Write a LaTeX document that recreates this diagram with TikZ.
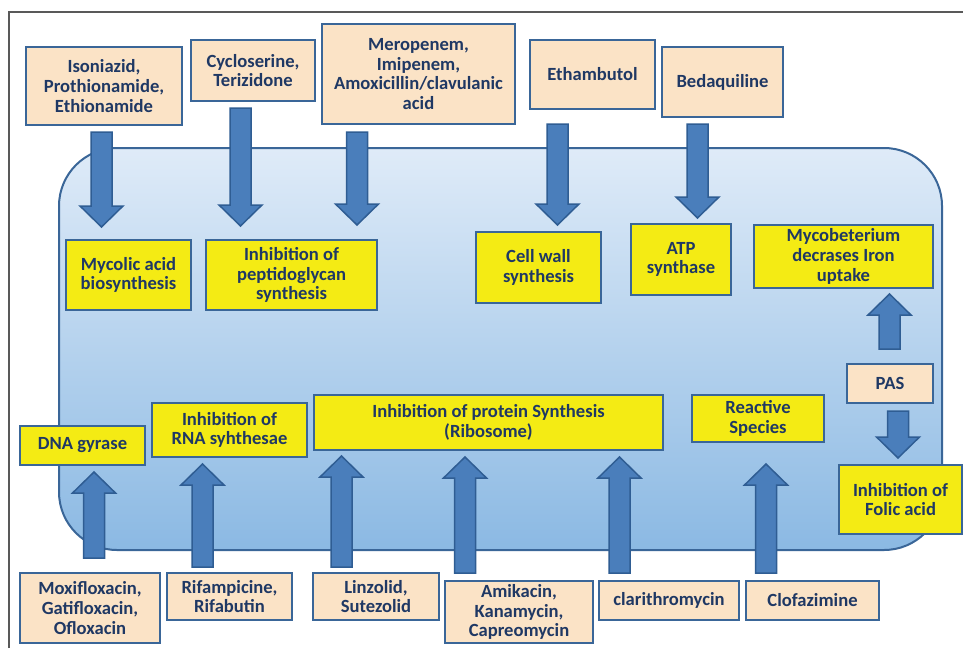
\documentclass[tikz,border=0pt]{standalone}
\usepackage{fontspec}
\setmainfont{Carlito}
\definecolor{bordc}{HTML}{3A6698}
\definecolor{peach}{HTML}{FBE3C6}
\definecolor{yel}{HTML}{F4EB14}
\definecolor{navy}{HTML}{1F3864}
\definecolor{arrfill}{HTML}{4A7EBB}
\definecolor{arrdraw}{HTML}{2F5D93}
\definecolor{blobtop}{HTML}{DFEBF8}
\definecolor{blobmid}{HTML}{B6D4F0}
\definecolor{blobbot}{HTML}{8BB9E3}
\newcommand\blockarrow[3]{%
  \pgfmathsetmacro\hbase{#3+((#2>#3)?21:-21)}%
  \draw[blockarr] ({#1-10.5},#2) -- ({#1-10.5},\hbase) -- ({#1-21.5},\hbase) -- (#1,#3) -- ({#1+21.5},\hbase) -- ({#1+10.5},\hbase) -- ({#1+10.5},#2) -- cycle;}
\begin{document}
\begin{tikzpicture}[x=1pt,y=-1pt,
  box/.style={draw=bordc, line width=1.8pt, text=navy, align=center, inner sep=0pt,
    font=\bfseries\fontsize{18.6}{19.6}\selectfont},
  drug/.style={box, fill=peach},
  target/.style={box, fill=yel},
  blockarr/.style={fill=arrfill, draw=arrdraw, line width=1.5pt, line join=miter}]
\useasboundingbox (0,0) rectangle (963,648);
\fill[white] (0,0) rectangle (963,648);
% outer frame
\draw[gray!70!black, line width=1.3pt] (9,648) -- (9,12) -- (963,12);
% cell body
\shade[top color=blobtop, middle color=blobmid, bottom color=blobbot, rounded corners=58pt] (59,148) rectangle (942,550);
\draw[bordc, line width=2pt, rounded corners=58pt] (59,148) rectangle (942,550);

% top drugs
\node[drug, minimum width=156, minimum height=78] (d1) at (104,86) {Isoniazid,\\Prothionamide,\\Ethionamide};
\node[drug, minimum width=124, minimum height=61] (d2) at (253,70.5) {Cycloserine,\\Terizidone};
\node[drug, minimum width=193, minimum height=100] (d3) at (418.5,74) {Meropenem,\\Imipenem,\\Amoxicillin/clavulanic\\acid};
\node[drug, minimum width=125, minimum height=69] (d4) at (592.5,74.5) {Ethambutol};
\node[drug, minimum width=121, minimum height=70] (d5) at (722.5,82) {Bedaquiline};

% top targets
\node[target, minimum width=125, minimum height=70] (t1) at (128.5,275) {Mycolic acid\\biosynthesis};
\node[target, minimum width=171, minimum height=70] (t2) at (291.5,275) {Inhibition of\\peptidoglycan\\synthesis};
\node[target, minimum width=125, minimum height=71] (t3) at (538.5,267.5) {Cell wall\\synthesis};
\node[target, minimum width=100, minimum height=71] (t4) at (681,259.5) {ATP\\synthase};
\node[target, minimum width=179, minimum height=63] (t5) at (843.5,256.5) {Mycobeterium\\decrases Iron\\uptake};

% right side
\node[drug, minimum width=86, minimum height=39] (pas) at (890,383.5) {PAS};
\node[target, minimum width=123, minimum height=69] (folic) at (900.5,499.5) {Inhibition of\\Folic acid};

% bottom targets
\node[target, minimum width=125, minimum height=39] (dna) at (82.5,445.5) {DNA gyrase};
\node[target, minimum width=155, minimum height=54] (rna) at (229.5,430) {Inhibition of\\RNA syhthesae};
\node[target, minimum width=349, minimum height=55] (prot) at (488.5,422.5) {Inhibition of protein Synthesis\\(Ribosome)};
\node[target, minimum width=132, minimum height=47] (react) at (758,418.5) {Reactive\\Species};

% bottom drugs
\node[drug, minimum width=140, minimum height=70] (m1) at (90,608) {Moxifloxacin,\\Gatifloxacin,\\Ofloxacin};
\node[drug, minimum width=125, minimum height=47] (m2) at (229.5,596.5) {Rifampicine,\\Rifabutin};
\node[drug, minimum width=126, minimum height=47] (m3) at (376,596.5) {Linzolid,\\Sutezolid};
\node[drug, minimum width=148, minimum height=62] (m4) at (519,612) {Amikacin,\\Kanamycin,\\Capreomycin};
\node[drug, minimum width=140, minimum height=39] (m5) at (669,600.5) {clarithromycin};
\node[drug, minimum width=133, minimum height=39] (m6) at (812.5,600.5) {Clofazimine};

% top arrows (down)
\blockarrow{101.5}{132}{227}
\blockarrow{240.5}{108}{226}
\blockarrow{357}{132}{225}
\blockarrow{557.5}{124}{225}
\blockarrow{697.5}{124}{218}
% right arrows
\blockarrow{889.5}{349}{294}
\blockarrow{898}{411}{458}
% bottom arrows (up)
\blockarrow{94}{558}{472}
\blockarrow{202.5}{567}{464}
\blockarrow{341.5}{567}{456}
\blockarrow{465}{573}{457}
\blockarrow{619.5}{573}{457}
\blockarrow{766}{573}{464}
\end{tikzpicture}
\end{document}
